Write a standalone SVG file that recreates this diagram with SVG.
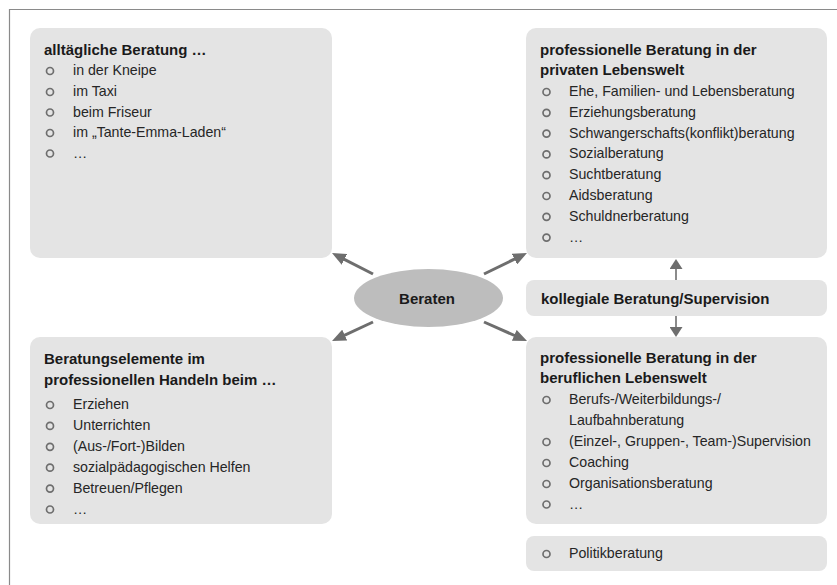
<svg xmlns="http://www.w3.org/2000/svg" width="837" height="585" viewBox="0 0 837 585">
<style>
.box{fill:#e4e4e4}
.t{font-family:"Liberation Sans",Arial,sans-serif;font-size:15px;font-weight:bold;fill:#1a1a1a}
.i{font-family:"Liberation Sans",Arial,sans-serif;font-size:14.2px;fill:#262626}
.b{fill:none;stroke:#6e6e6e;stroke-width:1.7}
.d{stroke:#6e6e6e;stroke-width:3;fill:none}
.v{stroke:#6e6e6e;stroke-width:1.6;fill:none}
</style>
<defs>
<marker id="big" markerUnits="userSpaceOnUse" markerWidth="14" markerHeight="12" viewBox="0 0 14 12" refX="4" refY="6" orient="auto">
<path d="M0,0 L14,6 L0,12 Z" fill="#6e6e6e"/>
</marker>
<marker id="small" markerUnits="userSpaceOnUse" markerWidth="10" markerHeight="13" viewBox="0 0 10 13" refX="1" refY="6.5" orient="auto">
<path d="M0,0 L10,6.5 L0,13 Z" fill="#6e6e6e"/>
</marker>
</defs>
<rect width="837" height="585" fill="#ffffff"/>
<path d="M9.5,585 V9.5 H837" fill="none" stroke="#8a8a8a" stroke-width="1.2"/>

<g id="alltaeglich">
<rect class="box" x="30" y="28" width="302" height="230" rx="10"/>
<text class="t" x="44" y="55">alltägliche Beratung …</text>
<circle class="b" cx="50" cy="71" r="3.5"/><text class="i" x="73" y="75">in der Kneipe</text>
<circle class="b" cx="50" cy="92" r="3.5"/><text class="i" x="73" y="96">im Taxi</text>
<circle class="b" cx="50" cy="112.5" r="3.5"/><text class="i" x="73" y="116.5">beim Friseur</text>
<circle class="b" cx="50" cy="133" r="3.5"/><text class="i" x="73" y="137">im „Tante-Emma-Laden“</text>
<circle class="b" cx="50" cy="153.5" r="3.5"/><text class="i" x="73" y="157.5">…</text>
</g>

<g id="privat">
<rect class="box" x="526" y="28" width="301" height="230" rx="10"/>
<text class="t" x="540" y="55">professionelle Beratung in der</text>
<text class="t" x="540" y="75">privaten Lebenswelt</text>
<circle class="b" cx="546.5" cy="92" r="3.5"/><text class="i" x="569" y="96">Ehe, Familien- und Lebensberatung</text>
<circle class="b" cx="546.5" cy="112.8" r="3.5"/><text class="i" x="569" y="116.8">Erziehungsberatung</text>
<circle class="b" cx="546.5" cy="133.6" r="3.5"/><text class="i" x="569" y="137.6">Schwangerschafts(konflikt)beratung</text>
<circle class="b" cx="546.5" cy="154.4" r="3.5"/><text class="i" x="569" y="158.4">Sozialberatung</text>
<circle class="b" cx="546.5" cy="175.2" r="3.5"/><text class="i" x="569" y="179.2">Suchtberatung</text>
<circle class="b" cx="546.5" cy="196" r="3.5"/><text class="i" x="569" y="200">Aidsberatung</text>
<circle class="b" cx="546.5" cy="216.8" r="3.5"/><text class="i" x="569" y="220.8">Schuldnerberatung</text>
<circle class="b" cx="546.5" cy="237.6" r="3.5"/><text class="i" x="569" y="241.6">…</text>
</g>

<g id="beraten">
<ellipse cx="428.5" cy="298" rx="74.5" ry="29" fill="#bdbdbd"/>
<text class="t" x="427" y="304" text-anchor="middle">Beraten</text>
</g>

<g id="kollegial">
<rect class="box" x="526" y="280" width="301" height="36" rx="8"/>
<text class="t" x="541" y="304">kollegiale Beratung/Supervision</text>
</g>

<g id="elemente">
<rect class="box" x="30" y="337" width="302" height="187" rx="10"/>
<text class="t" x="44" y="364">Beratungselemente im</text>
<text class="t" x="44" y="384.5">professionellen Handeln beim …</text>
<circle class="b" cx="50" cy="405" r="3.5"/><text class="i" x="73" y="409">Erziehen</text>
<circle class="b" cx="50" cy="425.9" r="3.5"/><text class="i" x="73" y="429.9">Unterrichten</text>
<circle class="b" cx="50" cy="446.8" r="3.5"/><text class="i" x="73" y="450.8">(Aus-/Fort-)Bilden</text>
<circle class="b" cx="50" cy="467.7" r="3.5"/><text class="i" x="73" y="471.7">sozialpädagogischen Helfen</text>
<circle class="b" cx="50" cy="488.6" r="3.5"/><text class="i" x="73" y="492.6">Betreuen/Pflegen</text>
<circle class="b" cx="50" cy="509.5" r="3.5"/><text class="i" x="73" y="513.5">…</text>
</g>

<g id="beruflich">
<rect class="box" x="526" y="337" width="301" height="187" rx="10"/>
<text class="t" x="540" y="362.5">professionelle Beratung in der</text>
<text class="t" x="540" y="383">beruflichen Lebenswelt</text>
<circle class="b" cx="546.5" cy="400" r="3.5"/><text class="i" x="569" y="404">Berufs-/Weiterbildungs-/</text>
<text class="i" x="569" y="425">Laufbahnberatung</text>
<circle class="b" cx="546.5" cy="442" r="3.5"/><text class="i" x="569" y="446">(Einzel-, Gruppen-, Team-)Supervision</text>
<circle class="b" cx="546.5" cy="463" r="3.5"/><text class="i" x="569" y="467">Coaching</text>
<circle class="b" cx="546.5" cy="484" r="3.5"/><text class="i" x="569" y="488">Organisationsberatung</text>
<circle class="b" cx="546.5" cy="504.5" r="3.5"/><text class="i" x="569" y="508.5">…</text>
</g>

<g id="politik">
<rect class="box" x="526" y="536" width="301" height="35" rx="8"/>
<circle class="b" cx="546.5" cy="554" r="3.5"/><text class="i" x="569" y="558">Politikberatung</text>
</g>

<g id="connectors">
<line class="d" x1="373" y1="274" x2="340.9" y2="257.6" marker-end="url(#big)"/>
<line class="d" x1="484" y1="274" x2="518" y2="257.4" marker-end="url(#big)"/>
<line class="d" x1="373" y1="322" x2="341.1" y2="336.8" marker-end="url(#big)"/>
<line class="d" x1="484" y1="322" x2="517.9" y2="337" marker-end="url(#big)"/>
<line class="v" x1="676" y1="280" x2="676" y2="268" marker-end="url(#small)"/>
<line class="v" x1="676" y1="316" x2="676" y2="328" marker-end="url(#small)"/>
</g>
</svg>
